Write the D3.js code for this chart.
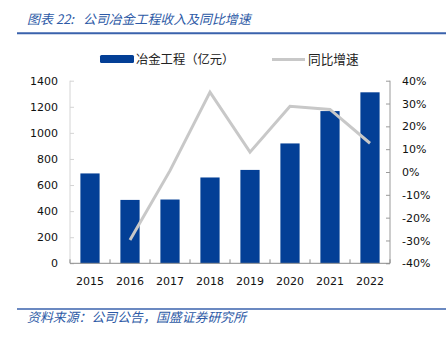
<!DOCTYPE html>
<html><head><meta charset="utf-8">
<script src="https://cdn.jsdelivr.net/npm/d3@7"></script>
<style>
html,body{margin:0;padding:0;background:#fff;}
svg{display:block;}
</style></head>
<body>
<script>
const years = ["2015","2016","2017","2018","2019","2020","2021","2022"];
const revenue = [689, 486, 489, 658, 716, 919, 1167, 1311];
const growth = [null, -29.8, 0.6, 35.0, 8.7, 28.8, 27.4, 12.6];
const leftTicks = [0,200,400,600,800,1000,1200,1400];
const rightTicks = [-40,-30,-20,-10,0,10,20,30,40];
const titleHead = "图表 22:";
const titleBody = "公司冶金工程收入及同比增速";
const source = "资料来源：公司公告，国盛证券研究所";
const seriesNames = ["冶金工程（亿元）","同比增速"];

const W = 446, H = 338;
const m = {left:70, right:390, top:80.7, bottom:263.3};
const blue = "#033f96", gray = "#c8c8c8", titleBlue = "#2d5aa6";
const numFont = "'DejaVu Sans', Verdana, sans-serif";
const cjk = "'Noto Sans CJK SC', sans-serif";

const svg = d3.select("body").append("svg").attr("width",W).attr("height",H);

// title
svg.append("text").attr("x",27).attr("y",24).text(titleHead)
  .attr("font-family",cjk).attr("font-size",13).attr("font-style","italic")
  .attr("fill",titleBlue);
svg.append("text").attr("x",83).attr("y",24).text(titleBody)
  .attr("font-family",cjk).attr("font-size",12.9).attr("font-style","italic")
  .attr("fill",titleBlue);
svg.append("line").attr("x1",17).attr("x2",W).attr("y1",33.3).attr("y2",33.3)
  .attr("stroke","#3a62ac").attr("stroke-width",2);

// scales
const x = d3.scaleBand().domain(years).range([m.left,m.right]).padding(0);
const yL = d3.scaleLinear().domain([0,1400]).range([m.bottom,m.top]);
const yR = d3.scaleLinear().domain([-40,40]).range([m.bottom,m.top]);

// left axis
const gL = svg.append("g").attr("transform",`translate(${m.left},0)`)
  .call(d3.axisLeft(yL).tickValues(leftTicks).tickSize(-4).tickPadding(12).tickFormat(d3.format("d")));
gL.selectAll("path,line").attr("stroke","#d4d4d4");
gL.select(".domain").attr("d",`M0,${m.top}V${m.bottom}`);

// right axis
const gR = svg.append("g").attr("transform",`translate(${m.right},0)`)
  .call(d3.axisRight(yR).tickValues(rightTicks).tickSize(-4).tickPadding(12).tickFormat(d=>d+"%"));
gR.selectAll("path,line").attr("stroke","#9a9a9a");
gR.select(".domain").attr("d",`M0,${m.top}V${m.bottom}`);

[gL,gR].forEach(g=>g.selectAll("text").attr("font-family",numFont).attr("font-size",11).attr("fill","#111"));

// bars
const bw = x.bandwidth()*0.48;
svg.append("g").selectAll("rect").data(years).join("rect")
  .attr("x",d=>x(d)+(x.bandwidth()-bw)/2)
  .attr("y",(d,i)=>yL(revenue[i]))
  .attr("width",bw)
  .attr("height",(d,i)=>yL(0)-yL(revenue[i]))
  .attr("fill",blue);

// bottom axis
const gB = svg.append("g").attr("transform",`translate(0,${m.bottom})`);
gB.append("line").attr("x1",m.left).attr("x2",m.right).attr("stroke","#8a8a8a").attr("stroke-width",1);
gB.selectAll("line.tk").data(d3.range(years.length+1)).join("line").attr("class","tk")
  .attr("x1",i=>m.left+i*x.step()).attr("x2",i=>m.left+i*x.step())
  .attr("y1",0).attr("y2",-4).attr("stroke","#8a8a8a");
gB.selectAll("text").data(years).join("text")
  .attr("x",d=>x(d)+x.bandwidth()/2).attr("y",21.5)
  .attr("text-anchor","middle").attr("font-family",numFont).attr("font-size",11).attr("fill","#111")
  .text(d=>d);

// growth line
const line = d3.line().defined(d=>d[1]!=null)
  .x(d=>x(d[0])+x.bandwidth()/2).y(d=>yR(d[1]));
svg.append("path").datum(years.map((y,i)=>[y,growth[i]]))
  .attr("d",line).attr("fill","none").attr("stroke",gray).attr("stroke-width",3)
  .attr("stroke-linejoin","miter");

// legend
const lg = svg.append("g");
lg.append("rect").attr("x",100).attr("y",55).attr("width",34).attr("height",8).attr("rx",1.5).attr("fill",blue);
lg.append("text").attr("x",136).attr("y",63.5).text(seriesNames[0])
  .attr("font-family",cjk).attr("font-size",12.3).attr("fill","#222");
lg.append("line").attr("x1",272).attr("x2",305).attr("y1",59.5).attr("y2",59.5).attr("stroke",gray).attr("stroke-width",3);
lg.append("text").attr("x",308).attr("y",63.5).text(seriesNames[1])
  .attr("font-family",cjk).attr("font-size",12.7).attr("fill","#222");

// source
svg.append("line").attr("x1",17).attr("x2",W).attr("y1",309).attr("y2",309)
  .attr("stroke","#3a62ac").attr("stroke-width",1.5);
svg.append("text").attr("x",27).attr("y",322).text(source)
  .attr("font-family",cjk).attr("font-size",12.9).attr("font-style","italic")
  .attr("fill",titleBlue);
</script>
</body></html>
